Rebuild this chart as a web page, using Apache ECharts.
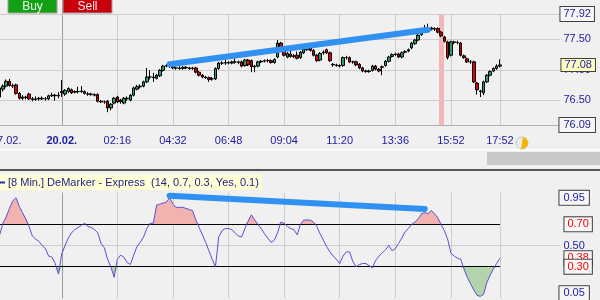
<!DOCTYPE html>
<html><head><meta charset="utf-8">
<script src="https://cdn.jsdelivr.net/npm/echarts@6/dist/echarts.min.js"></script>
<style>html,body{margin:0;padding:0;background:#f0f0f0}#c{width:600px;height:300px}</style>
</head><body><div id="c"></div>
<script>
// ---- data (8-minute bars) ----
const opens=[76.55,76.68,76.73,76.81,76.74,76.75,76.61,76.53,76.55,76.60,76.52,76.51,76.52,76.53,76.52,76.52,76.57,76.58,76.57,76.62,
76.60,76.64,76.67,76.63,76.64,76.64,76.64,76.60,76.60,76.59,76.59,76.48,76.47,76.48,76.37,76.45,76.55,76.50,76.45,76.52,
76.50,76.58,76.68,76.72,76.73,76.80,76.88,76.88,76.86,76.90,76.99,77.06,77.07,77.05,77.03,77.03,77.02,77.04,77.03,77.02,
77.03,76.96,76.91,76.88,76.87,76.85,76.85,77.02,77.11,77.11,77.12,77.11,77.13,77.13,77.13,77.07,77.16,77.15,77.05,77.06,
77.13,77.14,77.15,77.15,77.12,77.21,77.44,77.33,77.21,77.26,77.22,77.24,77.20,77.28,77.33,77.38,77.32,77.24,77.16,77.28,
77.33,77.28,77.09,77.08,77.07,77.07,77.20,77.20,77.13,77.13,77.09,77.03,76.98,76.97,76.99,77.06,77.01,77.04,77.07,77.14,
77.22,77.25,77.26,77.21,77.29,77.31,77.36,77.43,77.49,77.58,77.63,77.67,77.69,77.68,77.68,77.62,77.54,77.46,77.24,77.46,
77.45,77.44,77.23,77.18,77.13,77.13,76.78,76.65,76.62,76.80,76.91,76.98,77.02,77.06];
const closes=[76.70,76.73,76.81,76.74,76.73,76.61,76.53,76.55,76.54,76.52,76.51,76.52,76.53,76.52,76.52,76.57,76.58,76.57,76.58,76.64,
76.66,76.69,76.62,76.64,76.64,76.65,76.61,76.60,76.59,76.58,76.48,76.47,76.47,76.37,76.43,76.53,76.47,76.47,76.53,76.53,
76.58,76.70,76.72,76.73,76.80,76.88,76.88,76.87,76.91,76.99,77.06,77.07,77.06,77.03,77.03,77.02,77.04,77.03,77.02,77.03,
76.96,76.91,76.88,76.87,76.84,76.85,77.02,77.11,77.11,77.12,77.11,77.13,77.13,77.12,77.06,77.16,77.08,77.05,77.06,77.13,
77.14,77.15,77.15,77.12,77.17,77.44,77.33,77.24,77.27,77.22,77.23,77.19,77.29,77.34,77.38,77.32,77.24,77.15,77.27,77.29,
77.28,77.15,77.08,77.07,77.06,77.20,77.20,77.13,77.13,77.08,77.03,76.98,76.97,76.98,77.06,77.01,76.98,77.05,77.14,77.21,
77.25,77.26,77.21,77.28,77.30,77.33,77.44,77.49,77.57,77.62,77.66,77.68,77.67,77.67,77.62,77.56,77.47,77.20,77.46,77.45,
77.45,77.24,77.20,77.13,77.13,76.80,76.67,76.64,76.80,76.91,76.97,77.02,77.06,77.08];
const lows=[76.50,76.64,76.71,76.72,76.70,76.59,76.51,76.50,76.51,76.50,76.48,76.49,76.49,76.50,76.49,76.50,76.55,76.49,76.53,76.55,
76.57,76.62,76.60,76.61,76.61,76.62,76.59,76.57,76.57,76.56,76.46,76.45,76.44,76.30,76.33,76.43,76.45,76.44,76.43,76.49,
76.48,76.56,76.66,76.69,76.71,76.78,76.84,76.80,76.84,76.88,76.97,77.04,77.03,77.01,77.00,77.00,77.00,77.01,77.00,77.00,
76.94,76.89,76.86,76.85,76.80,76.82,76.83,77.00,77.08,77.08,77.09,77.09,77.10,77.09,77.04,77.05,77.06,76.96,76.96,77.04,
77.11,77.12,77.12,77.10,77.10,77.19,77.31,77.22,77.19,77.20,77.19,77.17,77.18,77.26,77.31,77.30,77.22,77.13,77.14,77.25,
77.26,77.13,77.05,77.05,77.04,77.05,77.17,77.11,77.10,77.06,77.01,76.96,76.95,76.95,76.97,76.99,76.96,76.91,77.05,77.12,
77.20,77.23,77.19,77.19,77.27,77.29,77.34,77.41,77.47,77.56,77.61,77.62,77.65,77.64,77.60,77.54,77.45,77.17,77.22,77.42,
77.42,77.22,77.18,77.11,77.10,76.78,76.59,76.55,76.58,76.78,76.89,76.96,77.00,77.04];
const highs=[76.73,76.76,76.84,76.85,76.77,76.77,76.63,76.58,76.57,76.62,76.55,76.56,76.55,76.56,76.55,76.59,76.62,76.60,76.63,76.83,
76.68,76.71,76.69,76.66,76.72,76.73,76.66,76.63,76.62,76.61,76.61,76.50,76.49,76.50,76.45,76.55,76.57,76.52,76.55,76.56,
76.60,76.72,76.75,76.76,76.82,77.03,76.99,76.95,76.93,77.01,77.08,77.09,77.09,77.06,77.05,77.06,77.06,77.06,77.05,77.05,
77.05,76.98,76.93,76.90,76.89,76.88,77.04,77.13,77.14,77.19,77.14,77.15,77.19,77.15,77.15,77.18,77.18,77.17,77.08,77.15,
77.16,77.17,77.18,77.17,77.19,77.49,77.46,77.35,77.29,77.31,77.26,77.30,77.31,77.36,77.42,77.40,77.34,77.26,77.29,77.32,
77.35,77.30,77.11,77.10,77.09,77.22,77.23,77.22,77.15,77.15,77.11,77.05,77.00,77.00,77.08,77.08,77.03,77.07,77.16,77.23,
77.27,77.28,77.28,77.30,77.32,77.35,77.46,77.51,77.59,77.64,77.74,77.76,77.71,77.70,77.70,77.64,77.56,77.48,77.48,77.48,
77.48,77.46,77.25,77.20,77.16,77.15,76.80,76.67,76.82,76.93,76.99,77.04,77.09,77.17];
const demarker=[0.60,0.71,0.77,0.85,0.92,0.95,0.87,0.81,0.75,0.68,0.59,0.56,0.54,0.50,0.47,0.40,0.39,0.33,0.23,0.42,
0.50,0.57,0.62,0.65,0.67,0.69,0.71,0.68,0.67,0.65,0.62,0.52,0.48,0.37,0.30,0.20,0.37,0.41,0.39,0.34,
0.32,0.41,0.49,0.53,0.58,0.66,0.71,0.71,0.88,0.89,0.90,0.91,0.95,0.89,0.86,0.86,0.86,0.85,0.84,0.83,
0.74,0.67,0.60,0.53,0.45,0.37,0.30,0.58,0.64,0.66,0.66,0.65,0.62,0.59,0.58,0.66,0.73,0.79,0.74,0.70,
0.66,0.61,0.57,0.53,0.55,0.62,0.72,0.71,0.68,0.66,0.65,0.60,0.70,0.74,0.74,0.74,0.72,0.68,0.61,0.55,
0.49,0.44,0.40,0.37,0.33,0.40,0.44,0.44,0.35,0.30,0.32,0.33,0.33,0.31,0.29,0.36,0.40,0.43,0.46,0.50,
0.45,0.47,0.52,0.57,0.63,0.66,0.70,0.72,0.75,0.80,0.81,0.80,0.83,0.80,0.76,0.70,0.64,0.56,0.43,0.40,
0.38,0.37,0.28,0.20,0.14,0.08,0.03,0.02,0.04,0.15,0.22,0.28,0.33,0.38];
const tickIdx=[2,19,36,53,70,87,104,121,138,153];
const tickLabels=['17.02.','20.02.','02:16','04:32','06:48','09:04','11:20','13:36','15:52','17:52'];
const priceGridValues=[77.50,77.00,76.50];
const priceGridLabels=['77.50','77.00','76.50'];
const priceMin=76.09, priceMax=77.92, lastPrice=77.08;
const demUpper=0.70, demLower=0.30, demMid=0.50, demTop=0.95, demBottom=0.05, demLast=0.38;
const trendTop=[[52,77.09],[131,77.66]];
const trendBottom=[[52,0.97],[130,0.845]];
const highlightBar=135;
const nSlots=172;

// ---- build ----
const cats=Array.from({length:nSlots},(_,i)=>'b'+i);
const candles=opens.map((o,i)=>[o,closes[i],lows[i],highs[i]]);
const navy='#1c1ca0', FONT='"Liberation Sans", Arial, sans-serif';
const upBase=demarker.map(()=>demUpper);
const upFill=demarker.map(v=>Math.max(v-demUpper,0));
const dnBase=demarker.map(v=>Math.min(v,demLower));
const dnFill=demarker.map(v=>demLower-Math.min(v,demLower));

function lbl(text,opt){
  return Object.assign({show:true,position:'end',formatter:text,color:navy,fontSize:11,fontFamily:FONT,distance:3},opt||{});
}
const boxed={backgroundColor:'#f6f6f6',borderColor:'#404040',borderWidth:1,padding:[2,3,1,3]};
const clear={color:'rgba(0,0,0,0)'};

const vGrid=tickIdx.slice(1).map(i=>({xAxis:cats[i],lineStyle:{color:i===19?'#9c9c9c':'#cdcdcd'},label:{show:false}}));

const topMarks=[].concat(vGrid,[
  {xAxis:cats[highlightBar],lineStyle:{color:'#f3b6b6',width:5},label:{show:false}},
  {yAxis:priceMax,lineStyle:{color:'#cdcdcd'},label:lbl('77.92',Object.assign({},boxed,{distance:0}))},
  {yAxis:priceGridValues[0],lineStyle:{color:'#cdcdcd'},label:lbl(priceGridLabels[0])},
  {yAxis:priceGridValues[1],lineStyle:{color:'#cdcdcd'},label:lbl(priceGridLabels[1],{padding:[9,0,0,0]})},
  {yAxis:priceGridValues[2],lineStyle:{color:'#cdcdcd'},label:lbl(priceGridLabels[2])},
  {yAxis:priceMin,lineStyle:{color:'#b0b0b0'},label:lbl('76.09',Object.assign({},boxed,{distance:-1,padding:[2,4,1,4]}))},
  {yAxis:lastPrice,lineStyle:clear,label:lbl('77.08',Object.assign({},boxed,{backgroundColor:'#ffffc4',distance:1,padding:[1,3,0,3]}))}
]);
const botMarks=[].concat(vGrid,[
  {yAxis:demMid,lineStyle:{color:'#cdcdcd'},label:lbl('0.50')},
  {yAxis:demTop,lineStyle:clear,label:lbl('0.95',Object.assign({},boxed,{distance:-1,padding:[2,4,1,4]}))},
  {yAxis:demBottom,lineStyle:clear,label:lbl('0.05',Object.assign({},boxed,{distance:-1,padding:[2,4,1,4]}))},
  {yAxis:demUpper,lineStyle:clear,label:lbl('0.70',Object.assign({},boxed,{color:'#ff0000',distance:4}))},
  {yAxis:demLast,lineStyle:clear,label:lbl('0.38',Object.assign({},boxed,{color:'#ff0000',distance:4}))},
  {yAxis:demLower,lineStyle:clear,label:lbl('0.30',Object.assign({},boxed,{color:'#ff0000',distance:4}))}
]);

const chart=echarts.init(document.getElementById('c'),null,{renderer:'canvas'});
chart.setOption({
  animation:false,
  backgroundColor:'#f0f0f0',
  textStyle:{fontFamily:FONT},
  grid:[
    {left:-2,top:14,width:nSlots*3.27,height:110.9,outerBoundsMode:'none',containLabel:false},
    {left:-2,top:192.5,width:nSlots*3.27,height:106,outerBoundsMode:'none',containLabel:false}
  ],
  xAxis:[
    {type:'category',gridIndex:0,data:cats,boundaryGap:true,
     axisLine:{lineStyle:{color:'#a8a8a8'}},axisTick:{show:false},splitLine:{show:false},
     axisLabel:{margin:11,color:navy,fontSize:11,fontFamily:FONT,hideOverlap:false,
       interval:(i)=>tickIdx.indexOf(i)>=0,
       formatter:(v,i)=>{const j=tickIdx.indexOf(i);if(j<0)return '';return j===1?'{b|'+tickLabels[j]+'}':tickLabels[j];},
       rich:{b:{fontWeight:'bold',fontSize:11,color:navy,fontFamily:FONT}}}},
    {type:'category',gridIndex:1,data:cats,boundaryGap:true,show:false}
  ],
  yAxis:[
    {type:'value',gridIndex:0,min:priceMin,max:priceMax,show:false,splitLine:{show:false}},
    {type:'value',gridIndex:1,min:0,max:1,show:false,splitLine:{show:false}}
  ],
  series:[
    {type:'line',xAxisIndex:0,yAxisIndex:0,data:[],silent:true,
     markLine:{z:1,silent:true,symbol:['none','none'],animation:false,lineStyle:{type:'solid',width:1},data:topMarks}},
    {type:'candlestick',xAxisIndex:0,yAxisIndex:0,z:3,barWidth:3,data:candles,
     itemStyle:{color:'#2e9e68',color0:'#e00000',borderColor:'#000',borderColor0:'#000',borderColorDoji:'#000',borderWidth:1},
     markLine:{z:6,silent:true,symbol:['none','none'],animation:false,label:{show:false},
       lineStyle:{type:'solid',width:6,color:'#3191f2',cap:'round'},
       data:[[{coord:[cats[trendTop[0][0]],trendTop[0][1]]},{coord:[cats[trendTop[1][0]],trendTop[1][1]]}]]}},
    {type:'line',xAxisIndex:1,yAxisIndex:1,data:[],silent:true,
     markLine:{z:1,silent:true,symbol:['none','none'],animation:false,lineStyle:{type:'solid',width:1},data:botMarks}},
    {type:'line',xAxisIndex:1,yAxisIndex:1,stack:'up',data:upBase,symbol:'none',silent:true,z:2,lineStyle:{opacity:0}},
    {type:'line',xAxisIndex:1,yAxisIndex:1,stack:'up',data:upFill,symbol:'none',silent:true,z:2,lineStyle:{opacity:0},areaStyle:{color:'#f2b3b0',opacity:1}},
    {type:'line',xAxisIndex:1,yAxisIndex:1,stack:'dn',data:dnBase,symbol:'none',silent:true,z:2,lineStyle:{opacity:0}},
    {type:'line',xAxisIndex:1,yAxisIndex:1,stack:'dn',data:dnFill,symbol:'none',silent:true,z:2,lineStyle:{opacity:0},areaStyle:{color:'#b3d3ad',opacity:1}},
    {type:'line',xAxisIndex:1,yAxisIndex:1,data:[],silent:true,
     markLine:{z:3,silent:true,symbol:['none','none'],animation:false,label:{show:false},lineStyle:{type:'solid',width:1,color:'#000'},
       data:[[{coord:[cats[0],demUpper]},{coord:[cats[demarker.length-1],demUpper]}],
             [{coord:[cats[0],demLower]},{coord:[cats[demarker.length-1],demLower]}]]}},
    {type:'line',xAxisIndex:1,yAxisIndex:1,data:demarker,symbol:'none',z:4,silent:true,
     lineStyle:{color:'#5a4fd6',width:1},
     markLine:{z:6,silent:true,symbol:['none','none'],animation:false,label:{show:false},
       lineStyle:{type:'solid',width:6,color:'#3191f2',cap:'round'},
       data:[[{coord:[cats[trendBottom[0][0]],trendBottom[0][1]]},{coord:[cats[trendBottom[1][0]],trendBottom[1][1]]}]]}}
  ],
  graphic:[
    {type:'rect',shape:{x:62,y:0,width:1,height:14},style:{fill:'#9c9c9c'}},
    {type:'rect',shape:{x:8,y:-1,width:49,height:14},style:{fill:'#14a014',stroke:'#a0a0a0',lineWidth:1}},
    {type:'text',x:32.5,y:6.5,style:{text:'Buy',fill:'#e6ffe6',font:'12px '+FONT,align:'center',verticalAlign:'middle'}},
    {type:'rect',shape:{x:63,y:-1,width:49,height:14},style:{fill:'#c8000c',stroke:'#a0a0a0',lineWidth:1}},
    {type:'text',x:87.5,y:6.5,style:{text:'Sell',fill:'#ffe8e8',font:'12px '+FONT,align:'center',verticalAlign:'middle'}},
    {type:'rect',shape:{x:0,y:149,width:600,height:1.5},style:{fill:'#ffffff'}},
    {type:'rect',shape:{x:487,y:152,width:113,height:13},style:{fill:'#c8c8c8'}},
    {type:'rect',shape:{x:0,y:169,width:600,height:2},style:{fill:'#555555'}},
    {type:'rect',shape:{x:0,y:174.5,width:262,height:15.5},style:{fill:'#ffffd6'}},
    {type:'line',shape:{x1:0,y1:182.5,x2:5,y2:182.5},style:{stroke:'#2030c0',lineWidth:2}},
    {type:'text',x:8,y:182.5,style:{text:'[8 Min.] DeMarker - Express  (14, 0.7, 0.3, Yes, 0.1)',fill:'#1c1c8c',font:'11px '+FONT,verticalAlign:'middle'}},
    {type:'circle',shape:{cx:522,cy:143,r:6},style:{fill:'#ececec',stroke:'#c8c8c8',lineWidth:1}},
    {type:'sector',shape:{cx:522,cy:143,r:6,r0:0,startAngle:-Math.PI*0.45,endAngle:Math.PI*0.55},style:{fill:'#f5b400'}}
  ]
});
</script></body></html>
